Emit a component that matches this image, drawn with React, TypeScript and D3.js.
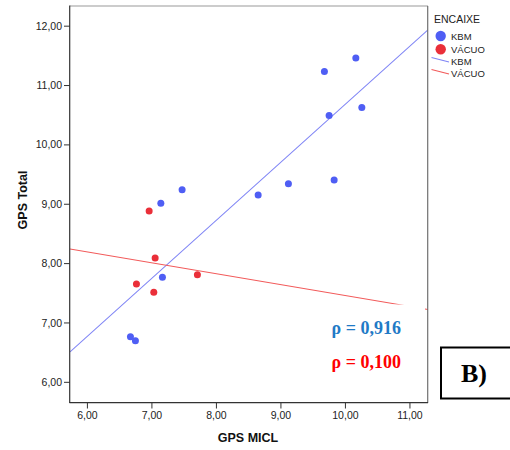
import React from "react";
import * as d3 from "d3";

const kbmX = [9.674, 10.161, 9.747, 10.254, 7.468, 8.647, 9.116, 9.825, 7.138, 7.163, 6.667, 6.744];
const kbmY = [11.237, 11.466, 10.497, 10.631, 9.244, 9.155, 9.345, 9.407, 9.015, 7.769, 6.769, 6.702];
const vacX = [6.957, 7.05, 6.76, 7.029, 7.705];
const vacY = [8.886, 8.094, 7.657, 7.517, 7.813];
const xTicks = [6, 7, 8, 9, 10, 11];
const yTicks = [6, 7, 8, 9, 10, 11, 12];
const legendGroups = ["KBM", "VÁCUO"];
const rhoLabels = ["ρ = 0,916", "ρ = 0,100"];

const BLUE = "#4f5ef4";
const RED = "#ea2f39";
const BLUE_LINE = "#7f84f5";
const RED_LINE = "#f25a5a";

function fit(xs: number[], ys: number[]) {
  const mx = d3.mean(xs)!;
  const my = d3.mean(ys)!;
  let sxy = 0, sxx = 0;
  xs.forEach((x, i) => {
    sxy += (x - mx) * (ys[i] - my);
    sxx += (x - mx) * (x - mx);
  });
  const b = sxy / sxx;
  return { b, a: my - b * mx };
}

const fmt = (v: number) => v.toFixed(2).replace(".", ",");

export default function App() {
  const x = d3.scaleLinear().domain([5.73, 11.28]).range([70, 428]);
  const y = d3.scaleLinear().domain([5.66, 12.34]).range([402.5, 6]);
  const [x0, x1] = x.domain();
  const fk = fit(kbmX, kbmY);
  const fv = fit(vacX, vacY);
  const line = d3.line<number>().x((d) => x(d[0])).y((d) => y(d[1]));
  const kLine = line([[x0, fk.a + fk.b * x0], [x1, fk.a + fk.b * x1]] as any);
  const vLine = line([[x0, fv.a + fv.b * x0], [x1, fv.a + fv.b * x1]] as any);
  const sans = "'Liberation Sans', Arial, sans-serif";
  const serif = "'Liberation Serif', 'Times New Roman', serif";

  return (
    <svg
      width={510}
      height={450}
      style={{ position: "absolute", left: 0, top: 0, background: "#fff" }}
    >
      <rect x={0} y={0} width={510} height={450} fill="#fff" />
      <defs>
        <clipPath id="plot">
          <rect x={70} y={6} width={358} height={396.5} />
        </clipPath>
      </defs>
      <g clipPath="url(#plot)">
        <path d={kLine!} stroke={BLUE_LINE} strokeWidth={1.1} fill="none" />
        <path d={vLine!} stroke={RED_LINE} strokeWidth={1.1} fill="none" />
        {kbmX.map((v, i) => (
          <circle key={"k" + i} cx={x(v)} cy={y(kbmY[i])} r={3.5} fill={BLUE} />
        ))}
        {vacX.map((v, i) => (
          <circle key={"v" + i} cx={x(v)} cy={y(vacY[i])} r={3.5} fill={RED} />
        ))}
      </g>
      {/* annotation box (white) */}
      <rect x={320} y={304.5} width={105} height={96} fill="#fff" />
      {/* frame */}
      <line x1={70} y1={6} x2={428} y2={6} stroke="#9a9a9a" strokeWidth={1.2} />
      <line x1={427.7} y1={6} x2={427.7} y2={403} stroke="#707070" strokeWidth={1.2} />
      <line x1={69.7} y1={5.5} x2={69.7} y2={403} stroke="#333" strokeWidth={1.2} />
      <line x1={69.5} y1={402.7} x2={428} y2={402.7} stroke="#333" strokeWidth={1.2} />
      {yTicks.map((t) => (
        <g key={"y" + t}>
          <line x1={64} x2={70} y1={y(t)} y2={y(t)} stroke="#333" strokeWidth={1} />
          <text x={62} y={y(t) + 3.6} textAnchor="end" fontFamily={sans} fontSize={10.5} fill="#222">
            {fmt(t)}
          </text>
        </g>
      ))}
      {xTicks.map((t) => (
        <g key={"x" + t}>
          <line x1={x(t)} x2={x(t)} y1={403} y2={408.5} stroke="#333" strokeWidth={1} />
          <text x={x(t)} y={418.5} textAnchor="middle" fontFamily={sans} fontSize={10.5} fill="#222">
            {fmt(t)}
          </text>
        </g>
      ))}
      <text x={248} y={441.5} textAnchor="middle" fontFamily={sans} fontSize={12.5} fontWeight="bold" fill="#111">
        GPS MICL
      </text>
      <text
        transform="translate(27,200) rotate(-90)"
        textAnchor="middle"
        fontFamily={sans}
        fontSize={12.5}
        fontWeight="bold"
        fill="#111"
      >
        GPS Total
      </text>
      {/* legend */}
      <text x={434} y={22.5} fontFamily={sans} fontSize={10.5} fill="#222">ENCAIXE</text>
      {legendGroups.map((g, i) => (
        <g key={"lg" + g}>
          <circle cx={440.7} cy={36 + i * 13.3} r={5.2} fill={i === 0 ? BLUE : RED} />
          <text x={451} y={40 + i * 13.3} fontFamily={sans} fontSize={9.5} fill="#222">{g}</text>
          <line
            x1={431.5}
            y1={57.5 + i * 12}
            x2={449}
            y2={62 + i * 12}
            stroke={i === 0 ? BLUE_LINE : RED_LINE}
            strokeWidth={1.1}
          />
          <text x={451} y={64.5 + i * 12} fontFamily={sans} fontSize={9.5} fill="#222">{g}</text>
        </g>
      ))}
      {/* rho annotations */}
      <text x={331.5} y={334} fontFamily={serif} fontSize={18} fontWeight="bold" fill="#1f7ac6">
        {rhoLabels[0]}
      </text>
      <text x={331.5} y={368} fontFamily={serif} fontSize={18} fontWeight="bold" fill="#ff0000">
        {rhoLabels[1]}
      </text>
      {/* B) box */}
      <rect x={441} y={347.5} width={80} height={51} fill="#fff" stroke="#000" strokeWidth={2} />
      <text x={461} y={381.5} fontFamily={serif} fontSize={26} fontWeight="bold" fill="#000">
        B)
      </text>
    </svg>
  );
}
